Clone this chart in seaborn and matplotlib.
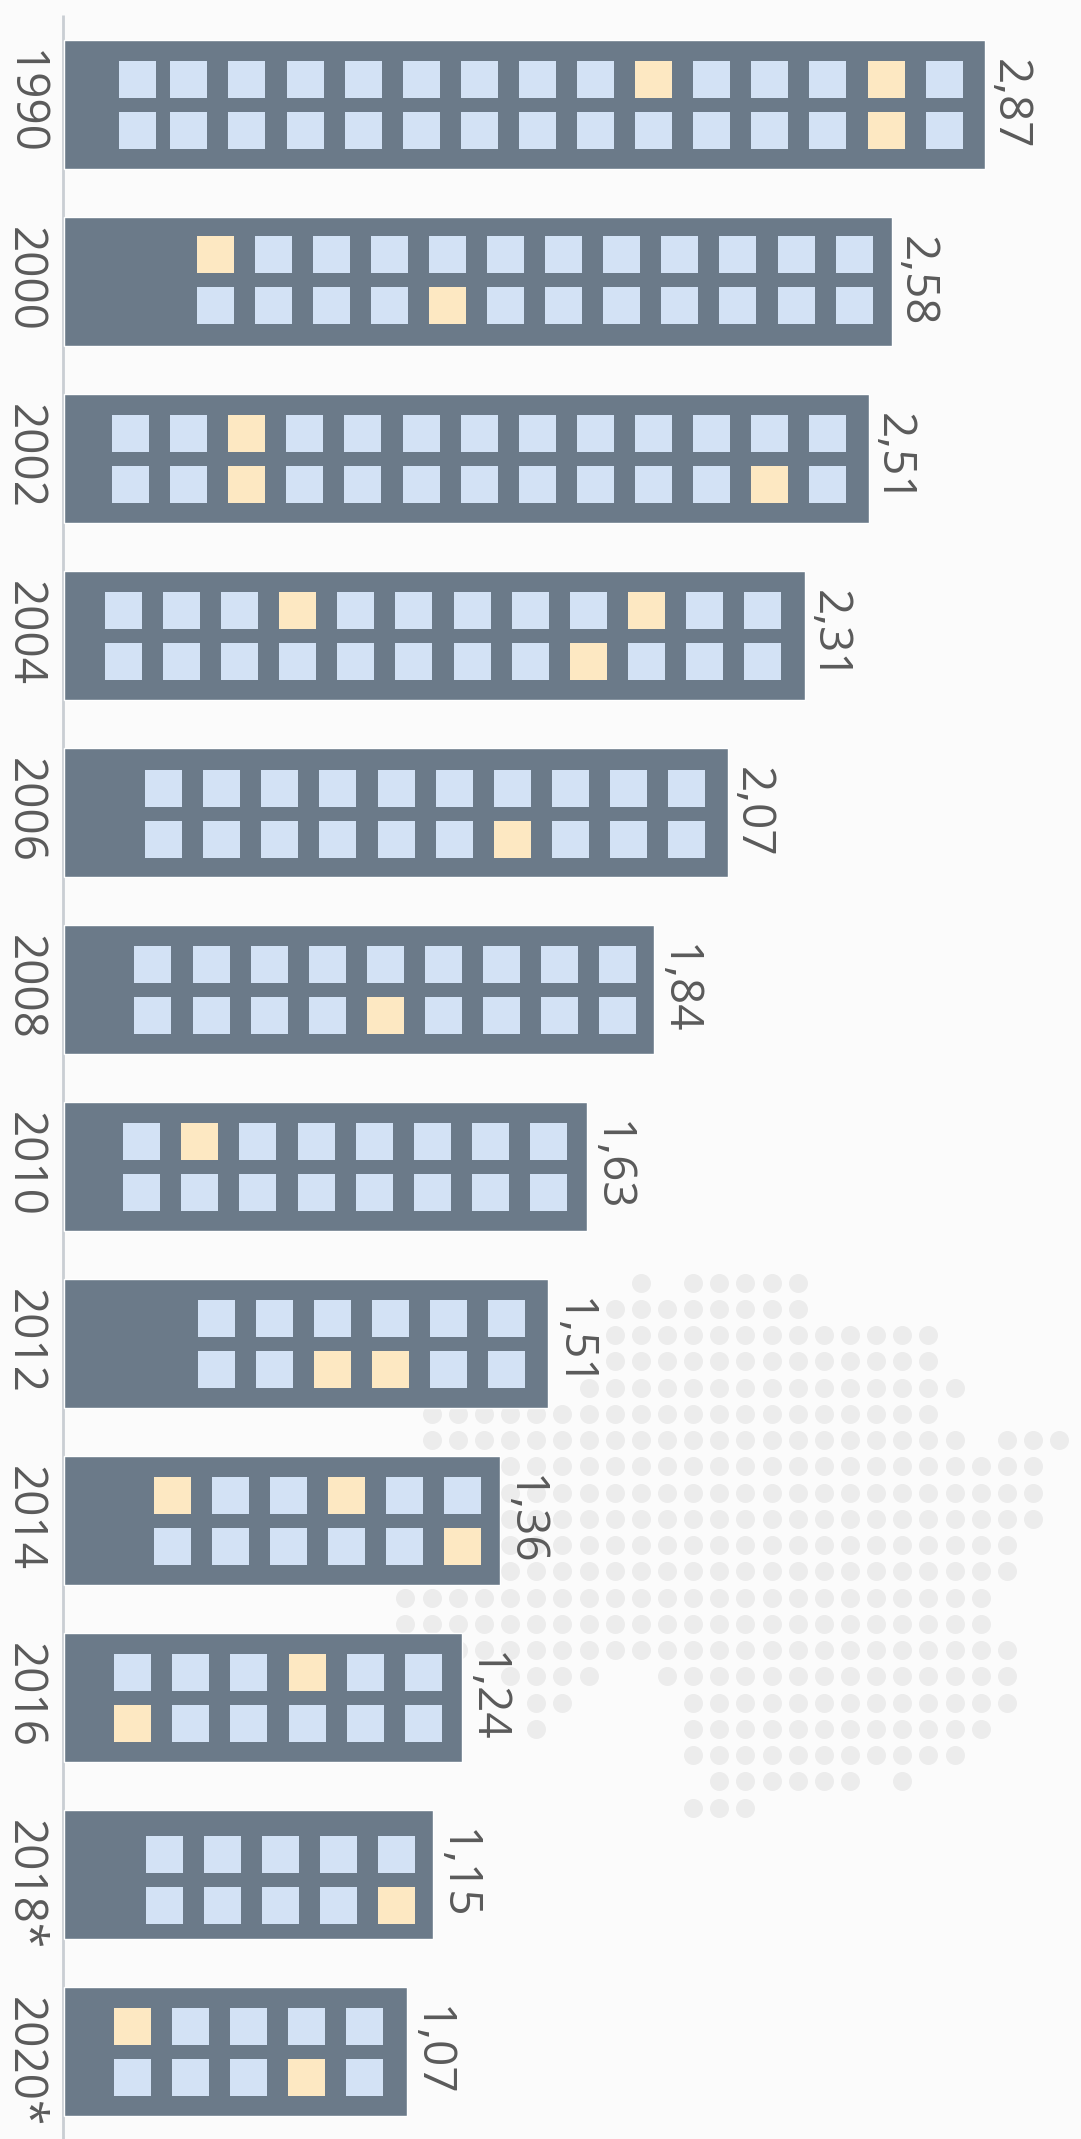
import numpy as np
import pandas as pd
import matplotlib
matplotlib.use("Agg")
import matplotlib.pyplot as plt
import seaborn as sns

# chart data
years = ["1990", "2000", "2002", "2004", "2006", "2008", "2010", "2012", "2014", "2016", "2018*", "2020*"]
values = [2.87, 2.58, 2.51, 2.31, 2.07, 1.84, 1.63, 1.51, 1.36, 1.24, 1.15, 1.07]
labels = ["2,87", "2,58", "2,51", "2,31", "2,07", "1,84", "1,63", "1,51", "1,36", "1,24", "1,15", "1,07"]
cell_counts = [15, 12, 13, 12, 10, 9, 8, 6, 6, 6, 5, 5]
top_marked = [[9, 13], [0], [2], [3, 9], [], [], [1], [], [0, 3], [3], [], [0]]
bottom_marked = [[13], [4], [2, 11], [8], [6], [4], [], [2, 3], [5], [0], [4], [3]]

# dot map behind the bars: (first column, last column) per row
map_rows = [
    [(9, 9), (11, 15)], [(8, 15)], [(8, 20)], [(8, 20)], [(7, 21)], [(1, 20)],
    [(1, 21), (23, 25)], [(1, 24)], [(1, 24)], [(1, 24)], [(1, 23)], [(1, 23)],
    [(0, 22)], [(0, 22)], [(1, 23)], [(4, 7), (10, 23)], [(5, 6), (11, 23)],
    [(5, 5), (11, 22)], [(11, 21)], [(12, 17), (19, 19)], [(11, 13)],
]

# layout, in pixels of the 1081x2139 picture
W, H = 1081, 2139
X0 = 64
PX_PER_UNIT = 320.8
Y0 = 104
ROW_STEP = 177
CELL = 37
CELL_STEP = 58.1
cell_margin = [22, 19, 23, 24, 23, 18, 20, 23, 19, 20, 18, 24]
row_shift = [1, -1, 1, 1, 2, 1, 1, 1, 1, 1, 6, 1]


def px_x(p):
    return (p - X0) / PX_PER_UNIT


def px_y(p):
    return (p - Y0) / ROW_STEP


sns.set_theme(style="white")
plt.rcParams["font.family"] = ["Open Sans", "DejaVu Sans"]
BG = "#fbfbfb"
fig = plt.figure(figsize=(W / 100, H / 100), dpi=100, facecolor=BG)
ax = fig.add_axes([0, 0, 1, 1], facecolor=BG)

# background map
dots = []
for r, spans in enumerate(map_rows):
    for a, b in spans:
        for c in range(a, b + 1):
            dots.append((px_x(405.5 + 26.15 * c), px_y(1282.5 + 26.25 * r)))
dots = pd.DataFrame(dots, columns=["x", "y"])
sns.scatterplot(data=dots, x="x", y="y", color="#ececec", s=(19 * 0.72) ** 2,
                linewidth=0, zorder=1, ax=ax, legend=False)

# bars
bars = pd.DataFrame({"year": years, "value": values})
sns.barplot(data=bars, y="year", x="value", orient="y", color="#6b7a89", saturation=1,
            width=129 / ROW_STEP, zorder=2, ax=ax)

# little windows inside each bar
cells = []
for i, n in enumerate(cell_counts):
    last = values[i] - (cell_margin[i] + CELL / 2) / PX_PER_UNIT
    for k in range(n):
        x = last - (n - 1 - k) * CELL_STEP / PX_PER_UNIT
        if i == 0 and k == 0:  # first column of 1990 sits closer to the second one
            x += 7 / PX_PER_UNIT
        cells.append((x, i + (row_shift[i] - 25.7) / ROW_STEP, k in top_marked[i]))
        cells.append((x, i + (row_shift[i] + 25.7) / ROW_STEP, k in bottom_marked[i]))
cells = pd.DataFrame(cells, columns=["x", "y", "marked"])
sns.scatterplot(data=cells, x="x", y="y", hue="marked", marker="s",
                palette={False: "#d3e2f5", True: "#fde8c2"},
                s=(CELL * 0.72) ** 2, linewidth=0, zorder=3, ax=ax, legend=False)

ax.vlines(px_x(63), px_y(15), px_y(H), color="#c9ced3", linewidth=2, zorder=1)

# rotated texts
for i, year in enumerate(years):
    ax.text(px_x(0.5), i - 54 / ROW_STEP, year, rotation=270, ha="left", va="top",
            fontsize=33, color="#5a5a5a", zorder=4)
    ax.text(values[i] + 1 / PX_PER_UNIT, i, labels[i], rotation=270,
            ha="left", va="center", fontsize=33, color="#5a5a5a", zorder=4)

ax.set_xlim(px_x(0), px_x(W))
ax.set_ylim(px_y(H), px_y(0))
ax.set_axis_off()

fig.savefig("out.png", dpi=100, facecolor=BG)
